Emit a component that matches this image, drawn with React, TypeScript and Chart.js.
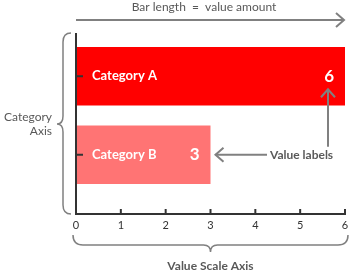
import React, { useEffect, useRef } from "react";
import { Chart, registerables } from "chart.js";

Chart.register(...registerables);

const categories = ["Category A", "Category B"];
const values = [6, 3];
const barColors = ["#ff0000", "#ff7474"];
const xMin = 0;
const xMax = 6;
const xStep = 1;

const titleText = "Bar length  =  value amount";
const catAxisText = ["Category", "Axis"];
const valueAxisText = "Value Scale Axis";
const valueLabelsText = "Value labels";

const FONT = "Lato, 'Open Sans', sans-serif";
const GRAY = "#808080";
const TEXT_GRAY = "#595959";
const AXIS = "#333333";

function arrowHead(ctx: CanvasRenderingContext2D, x: number, y: number, dir: "right" | "left" | "up") {
  ctx.beginPath();
  if (dir === "right") {
    ctx.moveTo(x - 8, y - 7);
    ctx.lineTo(x, y);
    ctx.lineTo(x - 8, y + 7);
  } else if (dir === "left") {
    ctx.moveTo(x + 8, y - 7);
    ctx.lineTo(x, y);
    ctx.lineTo(x + 8, y + 7);
  } else {
    ctx.moveTo(x - 7, y + 8);
    ctx.lineTo(x, y);
    ctx.lineTo(x + 7, y + 8);
  }
  ctx.stroke();
}

const annotatePlugin = {
  id: "annotate",
  afterDatasetsDraw(chart: any) {
    const ctx: CanvasRenderingContext2D = chart.ctx;
    const xs = chart.scales.x;
    const ys = chart.scales.y;
    const x0 = xs.getPixelForValue(xMin);
    const x1 = xs.getPixelForValue(xMax);
    const axisTop = 33;
    const axisBottom = 214;
    ctx.save();

    // axis lines
    ctx.strokeStyle = AXIS;
    ctx.lineWidth = 2;
    ctx.beginPath();
    ctx.moveTo(x0, axisTop);
    ctx.lineTo(x0, axisBottom + 1);
    ctx.moveTo(x0 - 1, axisBottom);
    ctx.lineTo(x1 + 1, axisBottom);
    ctx.stroke();

    // x ticks (inward)
    xs.ticks.forEach((t: any) => {
      const px = xs.getPixelForValue(t.value);
      ctx.beginPath();
      ctx.moveTo(px, axisBottom - 5);
      ctx.lineTo(px, axisBottom);
      ctx.stroke();
    });
    // y ticks (inward)
    categories.forEach((_, i) => {
      const py = ys.getPixelForValue(i);
      ctx.beginPath();
      ctx.moveTo(x0, py);
      ctx.lineTo(x0 + 7, py);
      ctx.stroke();
    });

    // x tick labels
    ctx.fillStyle = AXIS;
    ctx.font = `11px ${FONT}`;
    ctx.textAlign = "center";
    ctx.textBaseline = "middle";
    xs.ticks.forEach((t: any) => {
      const px = xs.getPixelForValue(t.value);
      ctx.fillText(String(t.value), px, 225);
    });

    // category labels and value labels inside bars
    categories.forEach((c, i) => {
      const py = ys.getPixelForValue(i);
      ctx.fillStyle = "#ffffff";
      ctx.font = `bold 13px ${FONT}`;
      ctx.textAlign = "left";
      ctx.fillText(c, x0 + 16, py);
      ctx.font = `bold 17px ${FONT}`;
      ctx.textAlign = "right";
      ctx.fillText(String(values[i]), xs.getPixelForValue(values[i]) - 11, py);
    });

    // top arrow
    ctx.strokeStyle = GRAY;
    ctx.lineWidth = 2;
    ctx.beginPath();
    ctx.moveTo(x0, 20);
    ctx.lineTo(x1 - 1, 20);
    ctx.stroke();
    arrowHead(ctx, x1 - 1, 20, "right");
    ctx.fillStyle = TEXT_GRAY;
    ctx.font = `12px ${FONT}`;
    ctx.textAlign = "center";
    ctx.fillText(titleText, 204, 7);

    // left brace
    ctx.lineWidth = 1.5;
    ctx.beginPath();
    ctx.moveTo(71, axisTop);
    ctx.quadraticCurveTo(63, axisTop, 63, axisTop + 9);
    ctx.lineTo(63, 116);
    ctx.quadraticCurveTo(63, 124, 57, 124);
    ctx.quadraticCurveTo(63, 124, 63, 132);
    ctx.lineTo(63, axisBottom - 9);
    ctx.quadraticCurveTo(63, axisBottom, 71, axisBottom);
    ctx.stroke();
    ctx.font = `12px ${FONT}`;
    ctx.textAlign = "right";
    ctx.fillText(catAxisText[0], 52, 117);
    ctx.fillText(catAxisText[1], 52, 131);

    // bottom brace
    const bm = (x0 + x1) / 2;
    ctx.beginPath();
    ctx.moveTo(x0 - 3, 235);
    ctx.quadraticCurveTo(x0 - 3, 245, x0 + 7, 245);
    ctx.lineTo(bm - 7, 245);
    ctx.quadraticCurveTo(bm, 245, bm, 252);
    ctx.quadraticCurveTo(bm, 245, bm + 7, 245);
    ctx.lineTo(x1 - 7, 245);
    ctx.quadraticCurveTo(x1 + 3, 245, x1 + 3, 235);
    ctx.stroke();
    ctx.textAlign = "center";
    ctx.font = `bold 12px ${FONT}`;
    ctx.fillText(valueAxisText, bm, 266);

    // value labels arrows
    const vx = xs.getPixelForValue(values[0]) - 17;
    const yA = ys.getPixelForValue(0);
    const yB = ys.getPixelForValue(1);
    ctx.lineWidth = 2;
    ctx.beginPath();
    ctx.moveTo(vx, yB - 8);
    ctx.lineTo(vx, yA + 13);
    ctx.stroke();
    arrowHead(ctx, vx, yA + 13, "up");
    const bx = xs.getPixelForValue(values[1]) + 5;
    ctx.beginPath();
    ctx.moveTo(267, yB);
    ctx.lineTo(bx, yB);
    ctx.stroke();
    arrowHead(ctx, bx, yB, "left");
    ctx.font = `bold 12px ${FONT}`;
    ctx.textAlign = "left";
    ctx.fillText(valueLabelsText, 270, yB);

    ctx.restore();
  },
};

export default function App() {
  const ref = useRef<HTMLCanvasElement>(null);
  useEffect(() => {
    document.body.style.margin = "0";
    const chart = new Chart(ref.current!, {
      type: "bar",
      data: {
        labels: categories,
        datasets: [
          {
            data: values,
            backgroundColor: barColors,
            borderWidth: 0,
            categoryPercentage: 1,
            barPercentage: 0.745,
          },
        ],
      },
      options: {
        indexAxis: "y",
        animation: false,
        responsive: false,
        devicePixelRatio: 1,
        layout: { padding: { left: 76, right: 6, top: 37, bottom: 82 } },
        plugins: { legend: { display: false }, tooltip: { enabled: false } },
        scales: {
          x: { display: false, min: xMin, max: xMax, ticks: { stepSize: xStep } },
          y: { display: false },
        },
      },
      plugins: [annotatePlugin],
    });
    return () => chart.destroy();
  }, []);
  return (
    <div style={{ position: "absolute", left: 0, top: 0, width: 351, height: 276 }}>
      <canvas ref={ref} width={351} height={276} />
    </div>
  );
}
